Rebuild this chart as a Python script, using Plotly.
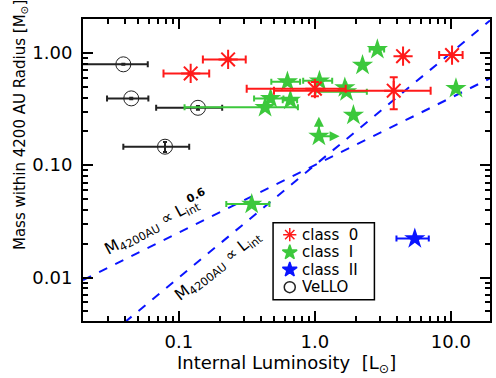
import numpy as np
import plotly.graph_objects as go

# ── data ──────────────────────────────────────────────────────────────────────
# class 0 (red asterisks)
lum_c0 = [0.122, 0.23, 1.0, 3.8, 4.45, 10.2]
mass_c0 = [0.656, 0.873, 0.48, 0.46, 0.934, 0.954]
lum_err_c0 = [0.045, 0.08, 0.685, 3.3, 0.0, 2.0]
mass_err_c0 = [0.0, 0.0, 0.07, 0.145, 0.0, 0.0]

# class I (green stars)
lum_c1 = [2.88, 2.24, 0.628, 1.08, 1.66, 1.71, 0.472, 0.66, 0.43, 1.92, 1.07, 10.9, 0.343]
mass_c1 = [1.07, 0.777, 0.552, 0.563, 0.49, 0.45, 0.393, 0.379, 0.327, 0.279, 0.181, 0.482, 0.045]
lum_err_c1 = [0.35, 0.0, 0.15, 0.26, 0.0, 0.7, 0.115, 0.08, 0.32, 0.0, 0.0, 0.0, 0.12]
mass_err_c1 = [0.0, 0.0, 0.0, 0.0, 0.0, 0.0, 0.0, 0.0, 0.015, 0.0, 0.0, 0.0, 0.0]

# class I lower limits (arrow tips)
lim_lum = 1.07
lim_mass = 0.181
lim_lum_tip = 1.52
lim_mass_tip = 0.27

# class II (blue star)
lum_c2 = [5.43]
mass_c2 = [0.0222]
lum_err_c2 = [1.45]

# VeLLOs (open circles)
lum_v = [0.039, 0.0446, 0.138, 0.079]
mass_v = [0.79, 0.393, 0.324, 0.146]
lum_err_v = [0.02, 0.015, 0.07, 0.04]
mass_err_v = [0.008, 0.006, 0.012, 0.015]

# reference relations M = k * L^p
rel_coef = 0.1
rel_pow = [0.6, 1.0]

legend_names = ["class  0", "class  I", "class  II", "VeLLO"]

X_RANGE = [0.0197, 19.4]
Y_RANGE = [0.0041, 2.0]

RED = "#ff1a1a"
GREEN = "#3cc83c"
BLUE = "#0a14ff"
DARK = "#222222"
FONT = "DejaVu Sans"

fig = go.Figure()

# ── relation lines ────────────────────────────────────────────────────────────
line_l = np.array(X_RANGE)
for p in rel_pow:
    fig.add_trace(go.Scatter(
        x=line_l, y=rel_coef * line_l ** p,
        mode="lines",
        line=dict(color=BLUE, width=2, dash="dash"),
        showlegend=False, hoverinfo="skip",
    ))

# ── data points ───────────────────────────────────────────────────────────────
fig.add_trace(go.Scatter(
    x=lum_v, y=mass_v, mode="markers",
    marker=dict(symbol="circle-open", size=15, color=DARK, line=dict(width=1)),
    error_x=dict(type="data", array=lum_err_v, color=DARK, thickness=2, width=3),
    error_y=dict(type="data", array=mass_err_v, color=DARK, thickness=2, width=2),
    showlegend=False,
))
fig.add_trace(go.Scatter(
    x=lum_c1, y=mass_c1, mode="markers",
    marker=dict(symbol="star", size=16, color=GREEN, line=dict(width=0)),
    error_x=dict(type="data", array=lum_err_c1, color=GREEN, thickness=2, width=3),
    error_y=dict(type="data", array=mass_err_c1, color=GREEN, thickness=2, width=3),
    showlegend=False,
))
fig.add_trace(go.Scatter(
    x=lum_c0, y=mass_c0, mode="markers",
    marker=dict(symbol="asterisk-open", size=16, color=RED, line=dict(width=2, color=RED)),
    error_x=dict(type="data", array=lum_err_c0, color=RED, thickness=2, width=4),
    error_y=dict(type="data", array=mass_err_c0, color=RED, thickness=2, width=4),
    showlegend=False,
))
fig.add_trace(go.Scatter(
    x=lum_c2, y=mass_c2, mode="markers",
    marker=dict(symbol="star", size=16, color=BLUE, line=dict(width=0)),
    error_x=dict(type="data", array=lum_err_c2, color=BLUE, thickness=2, width=3),
    showlegend=False,
))

# lower-limit arrows
for tip_x, tip_y in [(lim_lum, lim_mass_tip), (lim_lum_tip, lim_mass)]:
    fig.add_annotation(
        x=np.log10(tip_x), y=np.log10(tip_y), xref="x", yref="y",
        ax=np.log10(lim_lum), ay=np.log10(lim_mass), axref="x", ayref="y",
        text="", showarrow=True, arrowhead=2, arrowsize=1, arrowwidth=2,
        arrowcolor=GREEN, standoff=0, startstandoff=0,
    )

# ── hand-built legend box (overlay axes span the plot area 0..1) ──────────────
leg_sym = ["asterisk-open", "star", "star", "circle-open"]
leg_col = [RED, GREEN, BLUE, DARK]
leg_rows = [0.286, 0.227, 0.170, 0.112]
fig.add_shape(type="rect", xref="paper", yref="paper",
              x0=0.467, x1=0.716, y0=0.070, y1=0.325,
              line=dict(color="black", width=1.5), fillcolor="white", layer="below")
fig.add_trace(go.Scatter(
    x=[0.508] * 4, y=leg_rows, xaxis="x2", yaxis="y2", mode="markers",
    marker=dict(symbol=leg_sym, size=11, color=leg_col, line=dict(width=1.5, color=leg_col)),
    showlegend=False, hoverinfo="skip",
))
for name, ry in zip(legend_names, leg_rows):
    fig.add_annotation(x=0.532, y=ry, xref="paper", yref="paper", text=name,
                       showarrow=False, xanchor="left", yanchor="middle",
                       height=16, valign="middle",
                       font=dict(family=FONT, size=15, color="black"))

# relation labels (the 0.6 exponent is stacked over the "int" subscript)
fig.add_annotation(
    x=np.log10(0.0635), y=np.log10(0.0286), xref="x", yref="y",
    text="M<sub>4200AU</sub> ∝ L<sub>int</sub>",
    textangle=-28, showarrow=False, font=dict(family=FONT, size=16, color="black"),
)
fig.add_annotation(
    x=np.log10(0.133), y=np.log10(0.054), xref="x", yref="y",
    text="<b>0.6</b>",
    textangle=-28, showarrow=False, font=dict(family=FONT, size=11, color="black"),
)
fig.add_annotation(
    x=np.log10(0.195), y=np.log10(0.0128), xref="x", yref="y",
    text="M<sub>4200AU</sub> ∝ L<sub>int</sub>",
    textangle=-38, showarrow=False, font=dict(family=FONT, size=16, color="black"),
)

# axis titles
fig.add_annotation(
    x=0.5, y=-0.19, xref="paper", yref="paper",
    text="Internal Luminosity  [L<sub>⊙</sub>]", showarrow=False,
    font=dict(family=FONT, size=18, color="black"),
)
fig.add_annotation(
    x=-0.183, y=0.649, xref="paper", yref="paper",
    text="Mass within 4200 AU Radius [M<sub>⊙</sub>]", showarrow=False,
    textangle=-90, font=dict(family=FONT, size=15, color="black"),
)

x_minor = [m * 10.0 ** e for e in range(-2, 2) for m in range(2, 10)]
y_minor = [m * 10.0 ** e for e in range(-3, 1) for m in range(2, 10)]

axis_common = dict(
    type="log", showgrid=False, zeroline=False,
    showline=True, linecolor="black", linewidth=2, mirror="ticks",
    ticks="inside", ticklen=10, tickwidth=1.5, tickcolor="black",
    tickfont=dict(family=FONT, size=18, color="black"),
)

fig.update_layout(
    width=496, height=378,
    margin=dict(l=83, r=4, t=19, b=57),
    paper_bgcolor="white", plot_bgcolor="white",
    font=dict(family=FONT, size=16, color="black"),
    showlegend=False,
    xaxis=dict(
        range=[np.log10(X_RANGE[0]), np.log10(X_RANGE[1])],
        tickvals=[0.1, 1, 10], ticktext=["0.1", "1.0", "10.0"],
        minor=dict(tickvals=x_minor, ticks="inside", ticklen=5, tickcolor="black"),
        ticklabelstandoff=3,
        **axis_common,
    ),
    yaxis=dict(
        range=[np.log10(Y_RANGE[0]), np.log10(Y_RANGE[1])],
        tickvals=[0.01, 0.1, 1], ticktext=["0.01", "0.10", "1.00"],
        minor=dict(tickvals=y_minor, ticks="inside", ticklen=5, tickcolor="black"),
        ticklabelstandoff=5,
        **axis_common,
    ),
    xaxis2=dict(overlaying="x", range=[0, 1], visible=False),
    yaxis2=dict(overlaying="y", range=[0, 1], visible=False),
)

# the page body has a default 8px margin; drop it so the figure sits at (0, 0)
fig.write_html("out.html", config={"displayModeBar": False},
               post_script="document.body.style.margin='0';")
